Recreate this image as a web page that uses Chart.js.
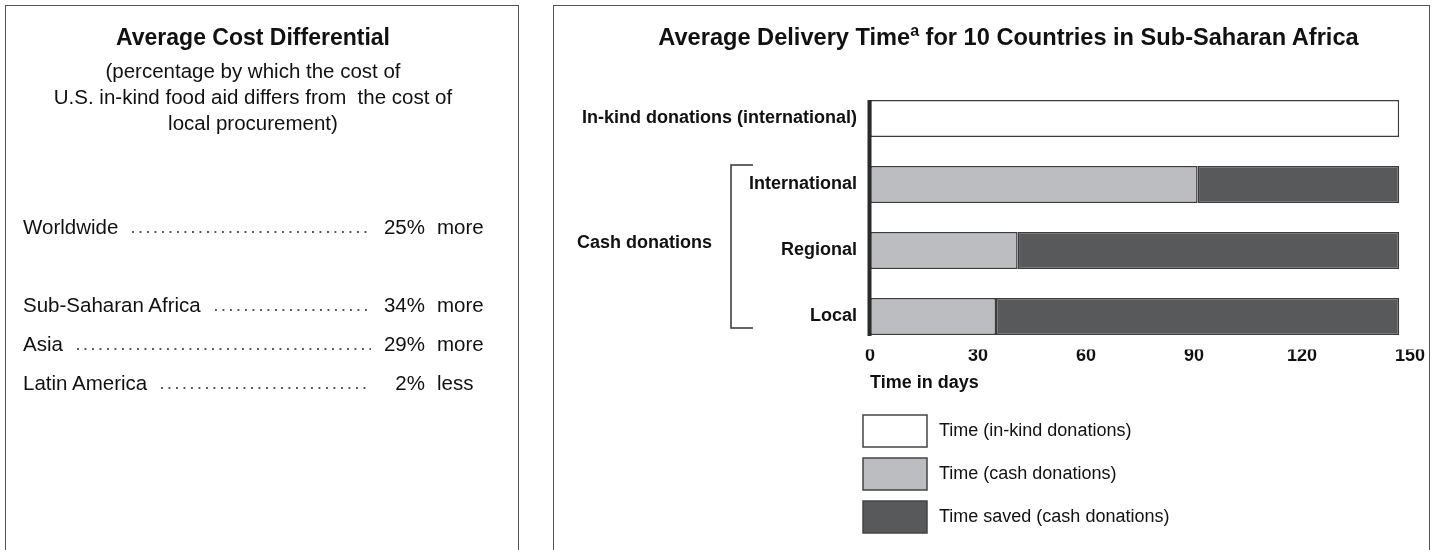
<!DOCTYPE html>
<html>
<head>
<meta charset="utf-8">
<script src="https://cdn.jsdelivr.net/npm/chart.js@4/dist/chart.umd.min.js"></script>
<style>
  html, body { margin: 0; padding: 0; background: #fff; }
  body { width: 1440px; height: 550px; overflow: hidden; position: relative;
         font-family: "Liberation Sans", Arial, Helvetica, sans-serif; color: #111; }
  .box { position: absolute; top: 5px; height: 600px; box-sizing: border-box;
         border: 1.5px solid #555; border-bottom: none; }
  .ttl { position: absolute; font-weight: bold; font-size: 23px; text-align: center; white-space: nowrap; }
  .sub { position: absolute; font-size: 20.5px; line-height: 26px; text-align: center; white-space: pre; }
  .row { position: absolute; left: 23px; width: 402px; height: 26px; line-height: 26px;
         font-size: 20.5px; display: flex; }
  .row .dots { flex: 1; margin-left: 14px; margin-right: 1px;
         background-image: linear-gradient(to right, #555 0 1.8px, transparent 1.8px 7.5px);
         background-size: 7.5px 1.6px; background-repeat: repeat-x; background-position: 0 16.5px; }
  .row .pct { width: 53px; text-align: right; }
  .unit { position: absolute; left: 437px; font-size: 20.5px; height: 26px; line-height: 26px; }
  canvas { position: absolute; left: 0; top: 0; }
  sup { font-size: 16px; vertical-align: 0; position: relative; top: -9px; }
</style>
</head>
<body>
<div class="box" style="left:5px; width:514px;"></div>
<div class="box" style="left:553px; width:877px;"></div>
<canvas id="c" width="1440" height="550"></canvas>
<div class="ttl" style="left:5px; width:496px; top:24px;">Average Cost Differential</div>
<div class="sub" id="sub" style="left:5px; width:496px; top:58px;"></div>
<div id="rows"></div>
<div class="ttl" style="left:587px; width:843px; top:24px; font-size:23.6px;">Average Delivery Time<sup>a</sup> for 10 Countries in Sub-Saharan Africa</div>
<script>
// ---- Left panel data ----
const subtitleLines = ['(percentage by which the cost of', 'U.S. in-kind food aid differs from  the cost of', 'local procurement)'];
const regions = ['Worldwide', 'Sub-Saharan Africa', 'Asia', 'Latin America'];
const pctDiff = [25, 34, 29, 2];
const direction = ['more', 'more', 'more', 'less'];
const rowCenters = [227, 305, 344, 383];

// ---- Right panel data ----
const categories = ['In-kind donations (international)', 'International', 'Regional', 'Local'];
const inKindDays = [147, null, null, null];
const cashDays = [null, 91, 41, 35];
const savedDays = [null, 56, 106, 112];
const xTicks = [0, 30, 60, 90, 120, 150];
const seriesNames = ['Time (in-kind donations)', 'Time (cash donations)', 'Time saved (cash donations)'];
const seriesColors = ['#ffffff', '#bcbdc0', '#58595b'];
const groupLabel = 'Cash donations';
const xTitle = 'Time in days';

// build left panel
document.getElementById('sub').textContent = subtitleLines.join('\n');
const rowsEl = document.getElementById('rows');
regions.forEach((r, i) => {
  const top = rowCenters[i] - 13;
  const row = document.createElement('div');
  row.className = 'row';
  row.style.top = top + 'px';
  row.innerHTML = '<span></span><div class="dots"></div><div class="pct"></div>';
  row.children[0].textContent = r;
  row.children[2].textContent = pctDiff[i] + '%';
  rowsEl.appendChild(row);
  const u = document.createElement('div');
  u.className = 'unit';
  u.style.top = top + 'px';
  u.textContent = direction[i];
  rowsEl.appendChild(u);
});

const FONT = '"Liberation Sans", Arial, Helvetica, sans-serif';
Chart.defaults.font.family = FONT;
Chart.defaults.color = '#111';

const decor = {
  id: 'decor',
  afterDatasetsDraw(chart) {
    const {ctx, scales: {x, y}} = chart;
    const first = chart.getDatasetMeta(0).data[0];
    const last = chart.getDatasetMeta(2).data[3];
    const top = first.y - first.height / 2;
    const bottom = last.y + last.height / 2;
    const x0 = x.getPixelForValue(0);
    ctx.save();
    // thick axis line
    ctx.fillStyle = '#2a2a2a';
    ctx.fillRect(x0 - 2.5, top, 4, bottom - top + 1);
    // bracket
    const bTop = y.getPixelForValue(1) - 19.5;
    const bBot = y.getPixelForValue(3) + 11.5;
    const bx = x0 - 139, bx2 = x0 - 117;
    ctx.strokeStyle = '#333';
    ctx.lineWidth = 1.5;
    ctx.beginPath();
    ctx.moveTo(bx2, bTop); ctx.lineTo(bx, bTop); ctx.lineTo(bx, bBot); ctx.lineTo(bx2, bBot);
    ctx.stroke();
    // group label
    ctx.fillStyle = '#111';
    ctx.font = 'bold 18px ' + FONT;
    ctx.textAlign = 'left';
    ctx.textBaseline = 'middle';
    ctx.fillText(groupLabel, x0 - 293, (bTop + bBot) / 2 - 3);
    // legend
    const lx = x0 - 7;
    let ly = chart.chartArea.bottom + 65.5;
    chart.data.datasets.forEach((ds) => {
      ctx.fillStyle = ds.backgroundColor;
      ctx.fillRect(lx, ly, 64, 32);
      ctx.strokeStyle = '#444';
      ctx.lineWidth = 1.5;
      ctx.strokeRect(lx, ly, 64, 32);
      ctx.fillStyle = '#111';
      ctx.font = '18px ' + FONT;
      ctx.fillText(ds.label, lx + 76, ly + 16.5);
      ly += 43;
    });
    ctx.restore();
  }
};

const mk = (i, data) => ({
  label: seriesNames[i], data, backgroundColor: seriesColors[i],
  borderColor: '#3c3c3c', borderWidth: 1.5, borderSkipped: false,
  barPercentage: 0.56, categoryPercentage: 1.0
});

new Chart(document.getElementById('c'), {
  type: 'bar',
  data: {
    labels: categories,
    datasets: [mk(0, inKindDays), mk(1, cashDays), mk(2, savedDays)]
  },
  options: {
    indexAxis: 'y',
    responsive: false,
    animation: false,
    devicePixelRatio: 1,
    layout: { padding: { top: 85.5, left: 550, right: 30, bottom: 156.2 } },
    plugins: { legend: { display: false }, tooltip: { enabled: false } },
    scales: {
      x: {
        stacked: true, min: 0, max: 150,
        afterBuildTicks: s => { s.ticks = xTicks.map(v => ({ value: v })); },
        afterFit: s => { s.height = 44.3; },
        grid: { display: false, drawTicks: false },
        border: { display: false },
        ticks: { padding: -4, font: { size: 18, weight: 'bold' }, color: '#111', maxRotation: 0 },
        title: { display: true, text: xTitle, align: 'start', padding: 0,
                 font: { size: 18, weight: 'bold' }, color: '#111' }
      },
      y: {
        stacked: true,
        afterFit: s => { s.width = 320; },
        grid: { display: false, drawTicks: false },
        border: { display: false },
        ticks: { padding: 13, font: { size: 18, weight: 'bold' }, color: '#111' }
      }
    }
  },
  plugins: [decor]
});
</script>
</body>
</html>
